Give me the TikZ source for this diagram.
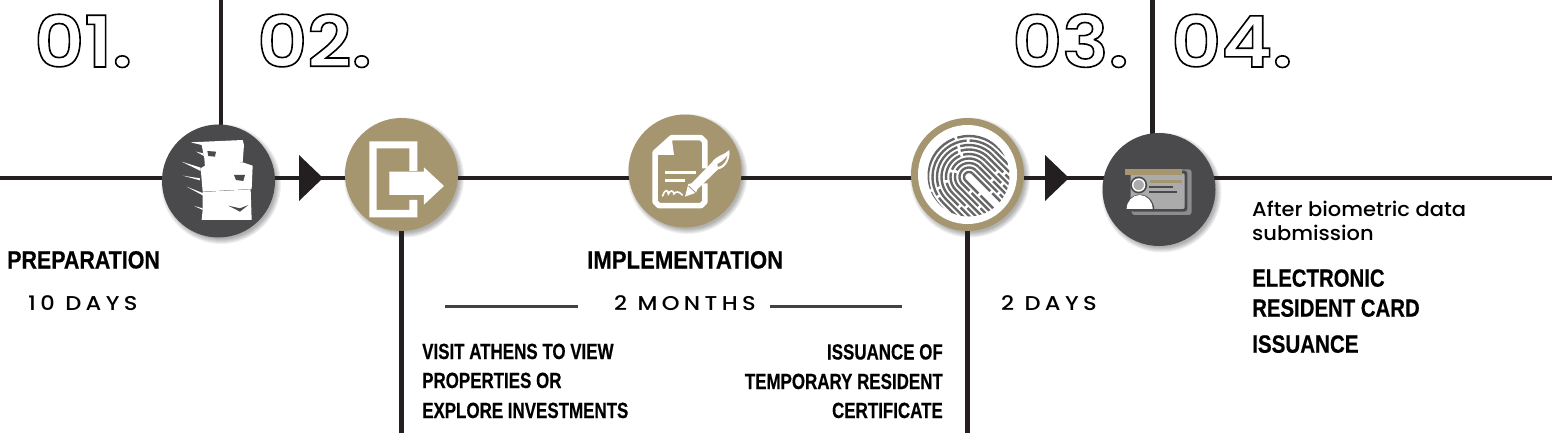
\documentclass[tikz,border=0pt]{standalone}
\usepackage{fontspec}
\setmainfont{Liberation Sans}
\newfontfamily\condf[FakeStretch=0.84,FakeBold=0.4]{Liberation Sans Bold}
\newfontfamily\condsf[FakeStretch=0.77,FakeBold=0.4]{Liberation Sans Bold}
\newfontfamily\spacedf[LetterSpace=22,FakeStretch=1.13]{Poppins Medium}
\newfontfamily\plainf[FakeStretch=1.05]{Poppins Medium}
\newfontfamily\numf[FakeStretch=1.09]{Poppins SemiBold}
\definecolor{tan}{HTML}{A69670}
\definecolor{darkc}{HTML}{4A4A4C}
\definecolor{linec}{HTML}{231F20}
\definecolor{ridge}{HTML}{666666}
\newcommand{\softshadow}[2]{%
  \foreach \rr in {60,59,58,57,56,55}{\fill[black,opacity=.06] (#1+2.5,#2+3) circle (\rr pt);}}
\newcommand{\outl}[1]{\special{pdf:code 1 Tr 1.6 w}#1\special{pdf:code 0 Tr 1 w}}
\newcommand{\sx}[2]{\scalebox{#1}[1]{#2}}
\tikzset{
  axisline/.style={draw=linec,line width=4.6pt},
  sublineb/.style={draw=linec!85!white,line width=3pt},
  badge/.style={circle,inner sep=0pt,minimum size=113pt},
  numlabel/.style={anchor=base west,inner sep=0pt,font=\numf\fontsize{71}{71}\selectfont},
  headl/.style={anchor=base west,inner sep=0pt,font=\condf\fontsize{25}{25}\selectfont},
  subl/.style={inner sep=0pt,font=\condsf\fontsize{22}{22}\selectfont},
  spaced/.style={anchor=base west,inner sep=0pt,font=\spacedf\fontsize{20}{20}\selectfont},
  body/.style={anchor=base west,inner sep=0pt,font=\plainf\fontsize{20}{20}\selectfont},
}
\begin{document}
\begin{tikzpicture}[x=1pt,y=-1pt]
\useasboundingbox (0,0) rectangle (1552,433);
% anchors
\coordinate (L) at (0,178);
\coordinate (R) at (1552,178);
\coordinate (T1) at (221,0);
\coordinate (T4) at (1152.5,0);
\coordinate (B2) at (401.5,433);
\coordinate (B3) at (967.5,433);
\coordinate (s1) at (445,306);
\coordinate (s2) at (578,306);
\coordinate (s3) at (770,306);
\coordinate (s4) at (902,306);
% shadows
\softshadow{218.5}{181}
\softshadow{401.5}{174.5}
\softshadow{685}{171}
\softshadow{967.5}{174.5}
\softshadow{1159}{189.5}
% badges (positions only first so connectors can refer to them)
\path node[badge] (c1) at (218.5,181) {}
      node[badge] (c2) at (401.5,174.5) {}
      node[badge] (c3) at (685,171) {}
      node[badge] (c4) at (967.5,174.5) {}
      node[badge] (c5) at (1159,189.5) {};
% connectors
\draw[axisline] (L) -- (L-|c1) -- (L-|c2) -- (L-|c3) -- (L-|c4) -- (L-|c5) -- (R);
\draw[axisline] (T1) -- (T1|-c1);
\draw[axisline] (T4) -- (T4|-c5);
\draw[axisline] (B2) -- (c2);
\draw[axisline] (B3) -- (c4);
\draw[sublineb] (s1) -- (s2);
\draw[sublineb] (s3) -- (s4);
% arrow triangles
\fill[linec] (299,155) -- (323,178) -- (299,201) -- cycle;
\fill[linec] (1045,155) -- (1069,178) -- (1045,201) -- cycle;
% badges drawn
\fill[darkc] (c1) circle (56.5pt);
\fill[tan] (c2) circle (56.5pt);
\fill[tan] (c3) circle (56.5pt);
\fill[tan] (c4) circle (56.5pt);
\fill[white] (c4) circle (49.5pt);
\fill[darkc] (c5) circle (56.5pt);
% icon 1: paper stack
\begin{scope}[shift={(160,125)},x=0.3333pt,y=-0.3333pt]
  \fill[white] (92,52) -- (248,45) -- (252,60) -- (248,112) -- (135,128) -- (133,100) -- (125,60) -- cycle;
  \fill[darkc] (142,78) -- (168,80) -- (165,95) -- (145,93) -- cycle;
  \fill[white] (108,80) -- (130,85) -- (132,93) -- cycle;
  \fill[white] (122,130) -- (135,122) -- (248,112) -- (278,122) -- (275,192) -- (128,200) -- cycle;
  \fill[darkc] (222,150) -- (255,150) -- (250,168) -- (228,165) -- cycle;
  \fill[white] (65,110) -- (122,128) -- (122,138) -- cycle;
  \fill[white] (68,152) -- (120,160) -- (120,166) -- cycle;
  \fill[white] (80,185) -- (130,205) -- (130,212) -- cycle;
  \fill[white] (128,201) -- (272,193) -- (275,285) -- (125,285) -- (128,255) -- cycle;
  \fill[white] (103,243) -- (128,250) -- (128,255) -- cycle;
  \fill[darkc] (205,242) -- (240,250) -- (265,240) -- (240,260) -- cycle;
\end{scope}
% icon 2: exit door
\begin{scope}[x=0.3333pt,y=-0.3333pt]
  \fill[white] (1108,424) -- (1252,424) -- (1252,513) -- (1228,513) -- (1228,445) -- (1130,445) -- (1130,630) -- (1228,630) -- (1228,600) -- (1252,600) -- (1252,652) -- (1108,652) -- cycle;
  \fill[white] (1168,515) -- (1272,515) -- (1272,502) -- (1332,558) -- (1272,614) -- (1272,585) -- (1168,585) -- cycle;
\end{scope}
% icon 3: document and pen
\begin{scope}[shift={(600,100)},x=0.3333pt,y=-0.3333pt]
  \draw[white,line width=5.5pt,line join=round] (315,205) -- (315,125) -- (303,113) -- (215,113) -- (165,158) -- (165,305) -- (177,317) -- (303,317) -- (315,305) -- (315,250);
  \fill[white] (215,113) -- (222,165) -- (165,165) -- cycle;
  \draw[white,line width=3.2pt] (195,218) -- (287,218);
  \draw[white,line width=3.2pt] (195,242) -- (255,242);
  \draw[white,line width=1.6pt,line cap=round] (188,288) .. controls (195,265) and (205,270) .. (205,282) .. controls (212,268) and (220,272) .. (222,282) .. controls (228,272) and (238,275) .. (247,285);
  \fill[white] (255,290) -- (265,252) -- (275,250) -- (335,188) -- (354,208) -- (292,268) -- (288,278) -- cycle;
  \fill[white] (335,188) .. controls (350,165) and (375,165) .. (388,150) .. controls (392,180) and (375,205) .. (354,208) -- cycle;
  \fill[tan] (352,192) .. controls (364,187) and (375,177) .. (382,167) .. controls (380,185) and (368,197) .. (354,201) -- cycle;
  \draw[tan,line width=.8pt] (266,258) -- (287,278);
\end{scope}
% icon 4: fingerprint
\begin{scope}
  \clip (c4) ++(1,1) circle (41pt);
  \foreach \rr/\da/\db/\dc in {
      5/34/3/0, 9.5/52/3/12, 14/42/3/16, 18.5/60/3/24, 23/30/3/6, 27.5/66/3/36,
      32/48/3/14, 36.5/74/3/46, 41/62/3/18, 45.5/90/3/66}{
    \draw[ridge,line width=2.4pt,dash pattern=on \da pt off \db pt,dash phase=\dc pt]
      plot[domain=-45:-225,samples=25,variable=\tt] ({969+\rr*cos(\tt)},{177+\rr*sin(\tt)})
      -- ({969+\rr*cos(135)+50*0.7071},{177+\rr*sin(135)+50*0.7071});
    \draw[ridge,line width=2.4pt,dash pattern=on \da pt off \db pt,dash phase=\dc+9 pt]
      ({969+\rr*cos(-45)},{177+\rr*sin(-45)})
      -- ({969+\rr*cos(-45)+50*0.7071},{177+\rr*sin(-45)+50*0.7071});
  }
\end{scope}
% icon 5: id card
\begin{scope}[shift={(1100,130)},x=0.3333pt,y=-0.3333pt]
  \fill[black!45!white,rounded corners=3pt] (95,118) -- (275,118) -- (275,255) -- (95,255) -- cycle;
  \fill[darkc,rounded corners=3pt] (92,122) -- (262,122) -- (262,245) -- (92,245) -- cycle;
  \fill[black!33!white,rounded corners=2pt] (92,130) -- (254,130) -- (254,237) -- (92,237) -- cycle;
  \fill[tan] (75,117) rectangle (247,135);
  \fill[tan] (150,150) rectangle (245,158);
  \draw[darkc,line width=2pt] (148,170) -- (220,170);
  \draw[darkc,line width=2pt] (148,187) -- (230,187);
  \fill[darkc] (116,165) circle (8.5pt);
  \draw[white,line width=1.4pt,fill=black!33!white] (116,165) circle (6pt);
  \fill[darkc] (76,240) arc[start angle=180,end angle=0,x radius=14.5pt,y radius=15.5pt] -- cycle;
  \fill[white] (80,237) arc[start angle=180,end angle=0,x radius=13pt,y radius=14pt] -- cycle;
\end{scope}
% numbers
\node[numlabel] (n1) at (34,67) {\outl{01.}};
\node[numlabel] (n2) at (257,67) {\outl{02.}};
\node[numlabel] (n3) at (1012,67) {\outl{03.}};
\node[numlabel] (n4) at (1171,67) {\outl{04.}};
% texts
\node[headl] (prep) at (7,268.5) {\sx{1.02}{PREPARATION}};
\node[spaced] (d10) at (28,310) {10 DAYS};
\node[headl] (impl) at (587,268.5) {\sx{1.054}{IMPLEMENTATION}};
\node[spaced] (m2) at (614,310) {2 MONTHS};
\node[spaced] (d2) at (1001,310) {2 DAYS};
\node[subl,anchor=base west] (v1) at (422,359) {VISIT ATHENS TO VIEW};
\node[subl,anchor=base west] (v2) at (422,388) {PROPERTIES OR};
\node[subl,anchor=base west] (v3) at (422,418) {EXPLORE INVESTMENTS};
\node[subl,anchor=base east] (i1) at (943,359.5) {ISSUANCE OF};
\node[subl,anchor=base east] (i2) at (943,389) {TEMPORARY RESIDENT};
\node[subl,anchor=base east] (i3) at (943,418) {CERTIFICATE};
\node[body] (a1) at (1252,216) {After biometric data};
\node[body] (a2) at (1252,240.7) {submission};
\node[headl] (e1) at (1252,286.7) {\sx{.97}{ELECTRONIC}};
\node[headl] (e2) at (1252,316.7) {\sx{.97}{RESIDENT CARD}};
\node[headl] (e3) at (1252,352.7) {\sx{.98}{ISSUANCE}};
\end{tikzpicture}
\end{document}
